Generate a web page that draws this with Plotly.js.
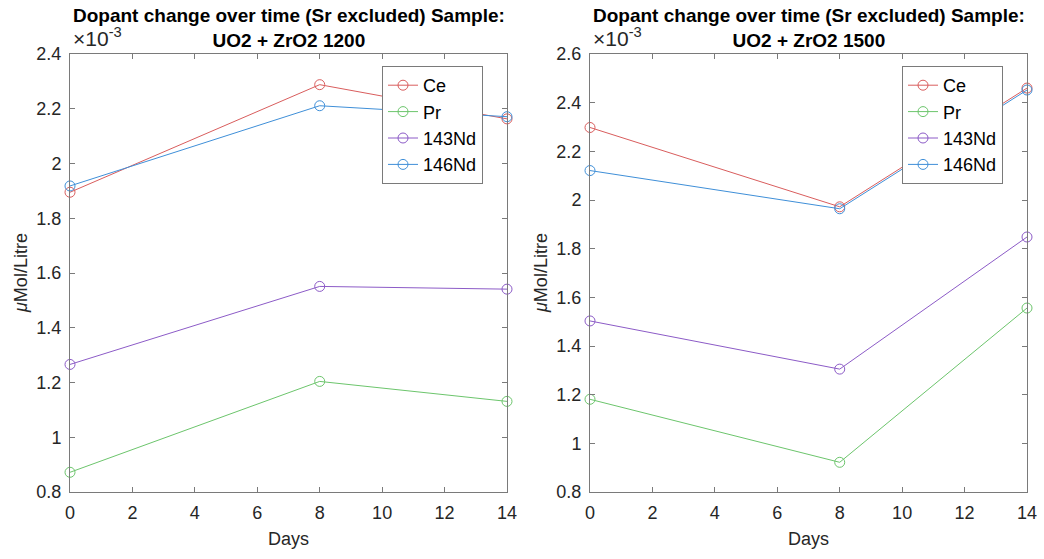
<!DOCTYPE html>
<html>
<head>
<meta charset="utf-8">
<script src="https://cdn.plot.ly/plotly-3.0.1.min.js"></script>
<style>html,body{margin:0;padding:0;background:#fff;}#chart{width:1044px;height:559px;}</style>
</head>
<body>
<div id="chart"></div>
<script>
// Data (values in units of 1e-3 µMol/Litre)
const days = [0, 8, 14];
const seriesNames = ["Ce", "Pr", "143Nd", "146Nd"];
const ce1200 = [1.895, 2.288, 2.163];
const pr1200 = [0.872, 1.204, 1.131];
const nd143_1200 = [1.266, 1.551, 1.541];
const nd146_1200 = [1.918, 2.211, 2.171];
const ce1500 = [2.298, 1.972, 2.460];
const pr1500 = [1.181, 0.922, 1.556];
const nd143_1500 = [1.503, 1.305, 1.848];
const nd146_1500 = [2.121, 1.964, 2.452];
const titles = ["Dopant change over time (Sr excluded) Sample:<br>UO2 + ZrO2 1200",
                "Dopant change over time (Sr excluded) Sample:<br>UO2 + ZrO2 1500"];
const xTicks = [0, 2, 4, 6, 8, 10, 12, 14];

const colors = ["#d95d5d", "#6cc56c", "#8c5bc7", "#3f8fd8"];
const FONT = "Liberation Sans, Arial, Helvetica, sans-serif";
const W = 1044, H = 559;

const sets = [[ce1200, pr1200, nd143_1200, nd146_1200], [ce1500, pr1500, nd143_1500, nd146_1500]];
const traces = [];
sets.forEach((s, p) => {
  s.forEach((vals, i) => {
    traces.push({
      x: days, y: vals, name: seriesNames[i], type: "scatter", mode: "lines+markers",
      xaxis: p === 0 ? "x" : "x2", yaxis: p === 0 ? "y" : "y2",
      legend: p === 0 ? "legend" : "legend2",
      line: {color: colors[i], width: 1},
      marker: {symbol: "circle-open", size: 10, color: colors[i], line: {width: 1, color: colors[i]}},
      cliponaxis: false
    });
  });
});

const px = v => v / W;
const py = v => 1 - v / H;
const axisCommon = {
  showgrid: false, zeroline: false, showline: true, linecolor: "#7a7a7a", linewidth: 1,
  mirror: "ticks", ticks: "inside", ticklen: 5, tickcolor: "#7a7a7a", tickwidth: 1,
  ticklabelstandoff: 4,
  tickfont: {family: FONT, size: 18, color: "#262626"}
};
function xax(dom) {
  return Object.assign({}, axisCommon, {
    domain: dom, range: [0, 14], tickvals: xTicks, ticktext: xTicks.map(String),
    title: {text: "Days", font: {family: FONT, size: 18, color: "#262626"}, standoff: 10}
  });
}
function yax(range, anchor) {
  return Object.assign({}, axisCommon, {
    domain: [py(492), py(54)], range: range, dtick: 0.2, tick0: 0, anchor: anchor
  });
}

const annotations = [];
[[70, 507], [590, 1027]].forEach((d, p) => {
  annotations.push({
    xref: "paper", yref: "paper", x: px((d[0] + d[1]) / 2), y: py(3), yanchor: "top", xanchor: "center",
    text: "<b>" + titles[p] + "</b>", showarrow: false,
    font: {family: FONT, size: 19, color: "#000"}
  });
  annotations.push({
    xref: "paper", yref: "paper", x: px(d[0] + 1), y: py(52), xanchor: "left", yanchor: "bottom",
    text: "×10<sup>-3</sup>", showarrow: false, font: {family: FONT, size: 21, color: "#262626"}
  });
  annotations.push({
    xref: "paper", yref: "paper", x: px(d[0] - 49), y: py(273), xanchor: "center", yanchor: "middle",
    textangle: -90, text: "<i>μ</i>Mol/Litre", showarrow: false,
    font: {family: FONT, size: 18, color: "#262626"}
  });
});

const legendCommon = {
  bgcolor: "#ffffff", bordercolor: "#7a7a7a", borderwidth: 1,
  font: {family: FONT, size: 18, color: "#000"}, xanchor: "left", yanchor: "top",
  itemwidth: 30, tracegroupgap: 0
};

const layout = {
  width: W, height: H, margin: {l: 0, r: 0, t: 0, b: 0},
  paper_bgcolor: "#fff", plot_bgcolor: "#fff",
  font: {family: FONT},
  xaxis: Object.assign(xax([px(70), px(507)]), {anchor: "y"}),
  yaxis: yax([0.8, 2.4], "x"),
  xaxis2: Object.assign(xax([px(590), px(1027)]), {anchor: "y2"}),
  yaxis2: yax([0.8, 2.6], "x2"),
  legend: Object.assign({}, legendCommon, {x: px(382), y: py(66)}),
  legend2: Object.assign({}, legendCommon, {x: px(902), y: py(66)}),
  annotations: annotations,
  showlegend: true
};

Plotly.newPlot("chart", traces, layout, {displayModeBar: false, staticPlot: true});
</script>
</body>
</html>
